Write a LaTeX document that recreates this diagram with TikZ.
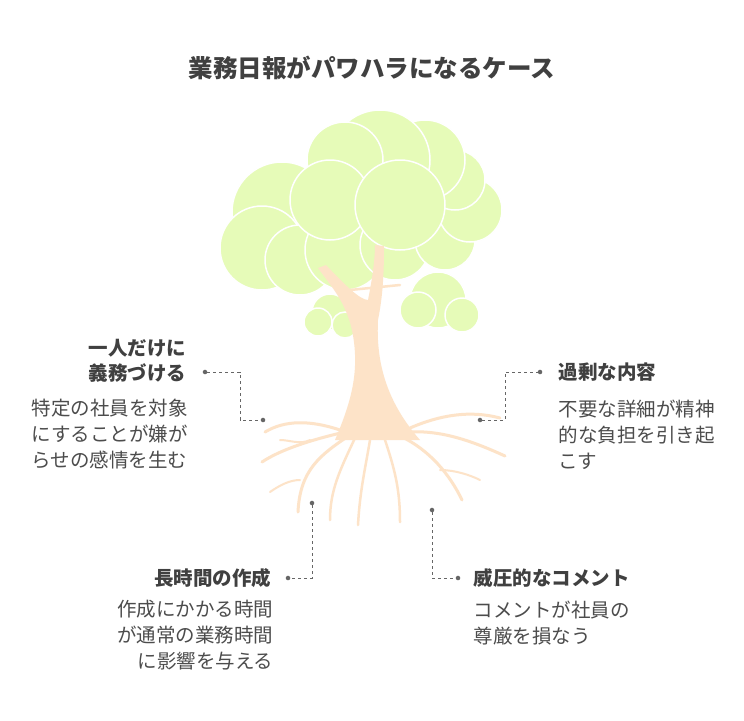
\documentclass[tikz,border=0pt]{standalone}
\usepackage{fontspec}
\setmainfont{Noto Sans CJK JP}
\begin{document}
\begin{tikzpicture}[x=1pt,y=-1pt,
  leaf/.style={fill=leafc,draw=white,line width=1.5pt},
  root/.style={draw=trunkc,line width=#1,line cap=round},
  conn/.style={draw=gray!80!black,dashed,line width=1pt},
  dotn/.style={circle,fill=gray!80!black,inner sep=1.6pt},
  lab/.style={font=\fontsize{19.5}{25}\selectfont\bfseries,text=black!75},
  desc/.style={font=\fontsize{19.5}{26}\selectfont,text=black!70}]
\definecolor{leafc}{HTML}{E6FBB8}
\definecolor{trunkc}{HTML}{FDE3C8}
\useasboundingbox (0,0) rectangle (744,720);
\fill[white] (0,0) rectangle (744,720);
\node[font=\fontsize{24.5}{28}\selectfont\bfseries,text=black!75] (title) at (372,68) {業務日報がパワハラになるケース};
% canopy
\foreach \x/\y/\r in {282/212/50,262/248/42,300/260/35,345/250/40,395/245/35,445/240/30,470/210/32,455/180/30,425/160/40,380/160/50,345/160/38,330/200/40,400/205/45}
  \path[leaf] (\x,\y) circle (\r);
\foreach \x/\y/\r in {330/312/18,318/322/14,345/325/13,438/300/28,418/310/18,462/315/17}
  \path[leaf] (\x,\y) circle (\r);
% trunk
\fill[trunkc] (335,440) .. controls (352,400) and (360,370) .. (352,330)
  .. controls (345,300) and (330,285) .. (318,268) -- (326,265)
  .. controls (345,285) and (360,300) .. (368,300)
  .. controls (372,280) and (375,260) .. (375,245) -- (384,246)
  .. controls (384,280) and (382,300) .. (378,320)
  .. controls (376,360) and (385,400) .. (420,440) -- cycle;
\draw[root=2.5pt] (350,290) -- (400,285);
\draw[root=3pt] (340,430) .. controls (310,420) and (285,420) .. (265,432);
\draw[root=3pt] (345,432) .. controls (310,440) and (280,450) .. (262,462);
\draw[root=3pt] (350,435) .. controls (320,455) and (300,470) .. (298,512);
\draw[root=2.5pt] (355,438) .. controls (340,470) and (330,490) .. (330,520);
\draw[root=2.5pt] (370,440) .. controls (365,470) and (360,490) .. (358,525);
\draw[root=2.5pt] (385,440) .. controls (395,470) and (400,490) .. (400,522);
\draw[root=3pt] (400,436) .. controls (430,450) and (450,475) .. (462,500);
\draw[root=3pt] (408,432) .. controls (440,430) and (470,440) .. (505,456);
\draw[root=3pt] (410,428) .. controls (440,415) and (470,410) .. (500,418);
\draw[root=2pt] (300,480) .. controls (290,480) and (280,485) .. (270,492);
\draw[root=2pt] (440,470) .. controls (455,470) and (470,475) .. (480,480);
\draw[root=2pt] (310,440) .. controls (300,445) and (290,440) .. (280,440);
% connectors
\node[dotn] (d1) at (205,372) {}; \node[dotn] (e1) at (263,420) {};
\draw[conn] (d1) -- (240,372) -- (240,420) -- (e1);
\node[dotn] (d2) at (540,372) {}; \node[dotn] (e2) at (480,420) {};
\draw[conn] (e2) -- (505,420) -- (505,372) -- (d2);
\node[dotn] (d3) at (288,578) {}; \node[dotn] (e3) at (312,503) {};
\draw[conn] (e3) -- (312,578) -- (d3);
\node[dotn] (d4) at (458,578) {}; \node[dotn] (e4) at (432,510) {};
\draw[conn] (e4) -- (432,578) -- (d4);
% texts
\node[lab,align=right,anchor=east] (l1) at (190,361) {一人だけに\\義務づける};
\node[desc,align=left,anchor=north west] (t1) at (28,396) {特定の社員を対象\\にすることが嫌が\\らせの感情を生む};
\node[lab,anchor=west] (l2) at (555,372) {過剰な内容};
\node[desc,align=left,anchor=north west] (t2) at (555,396) {不要な詳細が精神\\的な負担を引き起\\こす};
\node[lab,anchor=east] (l3) at (275,578) {長時間の作成};
\node[desc,align=right,anchor=north east] (t3) at (277,597) {作成にかかる時間\\が通常の業務時間\\に影響を与える};
\node[lab,anchor=west] (l4) at (470,578) {威圧的なコメント};
\node[desc,align=left,anchor=north west] (t4) at (470,597) {コメントが社員の\\尊厳を損なう};
\end{tikzpicture}
\end{document}
